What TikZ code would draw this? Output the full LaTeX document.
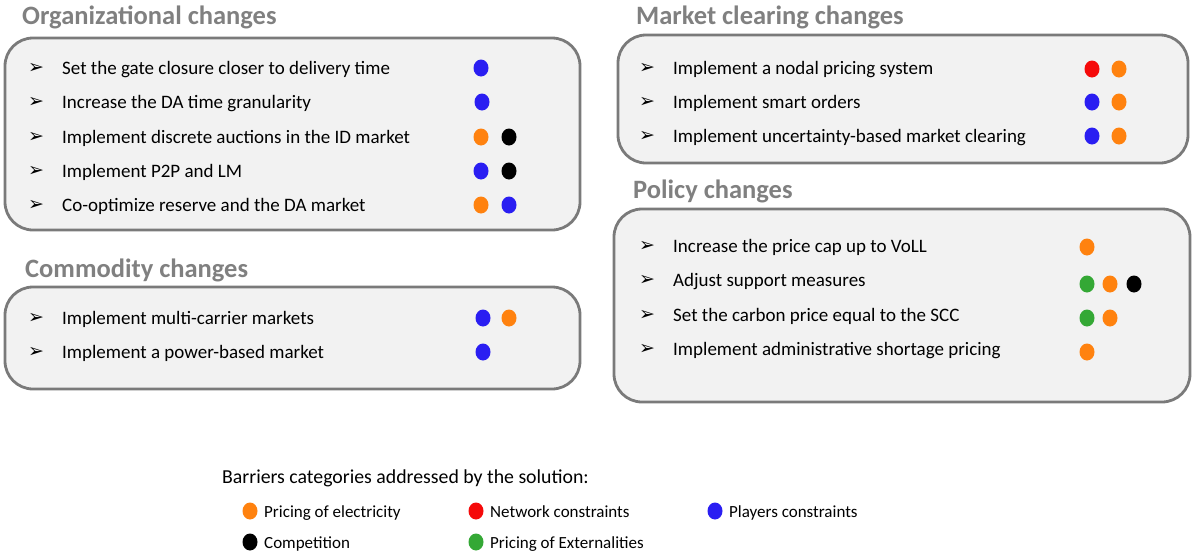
\documentclass[tikz,border=0pt]{standalone}
\usepackage{fontspec}
\setmainfont{Carlito}
\newfontfamily\symfont{DejaVu Sans}
\usetikzlibrary{shapes.geometric}
\definecolor{cOrange}{HTML}{FF820F}
\definecolor{cBlue}{HTML}{2A1EF2}
\definecolor{cRed}{HTML}{F50A0A}
\definecolor{cGreen}{HTML}{34A835}
\definecolor{cBlack}{HTML}{000000}
\definecolor{boxgray}{HTML}{7A7A7A}
\definecolor{panelfill}{HTML}{F2F2F2}
\definecolor{headgray}{HTML}{808080}
\begin{document}
\begin{tikzpicture}[x=1pt,y=-1pt,
  panel/.style={draw=boxgray, line width=2.8pt, fill=panelfill, rounded corners=28pt},
  heading/.style={anchor=base west, font=\fontsize{26.5}{30}\selectfont\bfseries, text=headgray, inner sep=0},
  itemtext/.style={anchor=base west, font=\fontsize{19}{22}\selectfont, inner sep=0},
  legtext/.style={anchor=base west, font=\fontsize{17}{20}\selectfont, inner sep=0},
  bulletmark/.style={anchor=center, font=\symfont\fontsize{19}{22}\selectfont, inner sep=0},
  dot/.style={ellipse, minimum width=15pt, minimum height=17pt, inner sep=0, fill=#1},
]
\useasboundingbox (0,0) rectangle (1195,555);

% Headings
\node[heading] (hOrg) at (22,24) {Organizational changes};
\node[heading] (hCom) at (25,277) {Commodity changes};
\node[heading] (hMkt) at (636,24) {Market clearing changes};
\node[heading] (hPol) at (633,198) {Policy changes};

% Panels
\draw[panel] (5,38) rectangle (580,230);
\draw[panel] (5,287) rectangle (580,389);
\draw[panel] (618,35) rectangle (1188,163);
\draw[panel] (614,209) rectangle (1190,402);

% Organizational changes
\foreach \i/\y/\t in {1/68/{Set the gate closure closer to delivery time},
                      2/102/{Increase the DA time granularity},
                      3/137/{Implement discrete auctions in the ID market},
                      4/171/{Implement P2P and LM},
                      5/205/{Co-optimize reserve and the DA market}} {
  \node[bulletmark] (ob\i) at (36,\y) {➢};
  \node[itemtext] (ot\i) at (62,\y+6) {\t};
}
\node[dot=cBlue] (od1a) at (481,68) {};
\node[dot=cBlue] (od2a) at (482,102) {};
\node[dot=cOrange] (od3a) at (481,137) {};
\node[dot=cBlack] (od3b) at (509,137) {};
\node[dot=cBlue] (od4a) at (481,171) {};
\node[dot=cBlack] (od4b) at (509,171) {};
\node[dot=cOrange] (od5a) at (481,205) {};
\node[dot=cBlue] (od5b) at (509,205) {};

% Commodity changes
\foreach \i/\y/\t in {1/318/{Implement multi-carrier markets},
                      2/352/{Implement a power-based market}} {
  \node[bulletmark] (cb\i) at (36,\y) {➢};
  \node[itemtext] (ct\i) at (62,\y+6) {\t};
}
\node[dot=cBlue] (cd1a) at (483,318) {};
\node[dot=cOrange] (cd1b) at (509,318) {};
\node[dot=cBlue] (cd2a) at (483,352) {};

% Market clearing changes
\foreach \i/\y/\t in {1/68/{Implement a nodal pricing system},
                      2/102/{Implement smart orders},
                      3/136/{Implement uncertainty-based market clearing}} {
  \node[bulletmark] (mb\i) at (647,\y) {➢};
  \node[itemtext] (mt\i) at (673,\y+6) {\t};
}
\node[dot=cRed] (md1a) at (1092,69) {};
\node[dot=cOrange] (md1b) at (1119,69) {};
\node[dot=cBlue] (md2a) at (1092,102) {};
\node[dot=cOrange] (md2b) at (1119,102) {};
\node[dot=cBlue] (md3a) at (1092,136) {};
\node[dot=cOrange] (md3b) at (1119,136) {};

% Policy changes
\foreach \i/\y/\t in {1/246/{Increase the price cap up to VoLL},
                      2/280/{Adjust support measures},
                      3/315/{Set the carbon price equal to the SCC},
                      4/349/{Implement administrative shortage pricing}} {
  \node[bulletmark] (pb\i) at (647,\y) {➢};
  \node[itemtext] (pt\i) at (673,\y+6) {\t};
}
\node[dot=cOrange] (pd1a) at (1087,247) {};
\node[dot=cGreen] (pd2a) at (1087,284) {};
\node[dot=cOrange] (pd2b) at (1110,284) {};
\node[dot=cBlack] (pd2c) at (1134,284) {};
\node[dot=cGreen] (pd3a) at (1087,318) {};
\node[dot=cOrange] (pd3b) at (1110,318) {};
\node[dot=cOrange] (pd4a) at (1087,352) {};

% Legend
\node[itemtext, font=\fontsize{19.8}{23}\selectfont] (legtitle) at (222,483) {Barriers categories addressed by the solution:};
\node[dot=cOrange] (l1) at (250,511) {};
\node[legtext] (l1t) at (264,517) {Pricing of electricity};
\node[dot=cRed] (l2) at (476,511) {};
\node[legtext] (l2t) at (490,517) {Network constraints};
\node[dot=cBlue] (l3) at (715,511) {};
\node[legtext] (l3t) at (729,517) {Players constraints};
\node[dot=cBlack] (l4) at (250,542) {};
\node[legtext] (l4t) at (264,548) {Competition};
\node[dot=cGreen] (l5) at (476,542) {};
\node[legtext] (l5t) at (490,548) {Pricing of Externalities};
\end{tikzpicture}
\end{document}
